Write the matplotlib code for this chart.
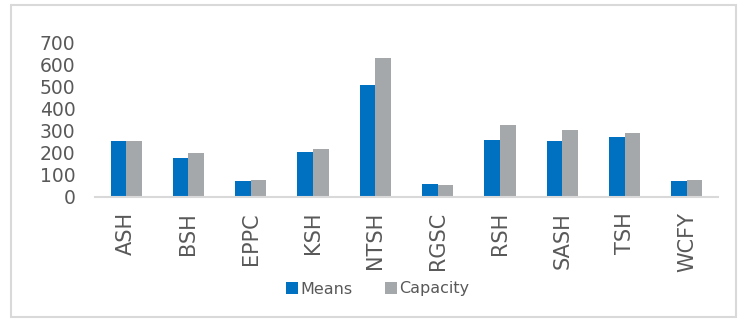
import matplotlib
matplotlib.use("Agg")
import matplotlib.pyplot as plt
import numpy as np
from matplotlib.patches import Rectangle

categories = ["ASH", "BSH", "EPPC", "KSH", "NTSH", "RGSC", "RSH", "SASH", "TSH", "WCFY"]
means = [254, 175, 70, 201, 506, 57, 258, 251, 269, 71]
capacity = [251, 199, 74, 217, 627, 53, 326, 302, 288, 76]
yticks = [0, 100, 200, 300, 400, 500, 600, 700]

plt.rcParams['font.family'] = ['DejaVu Sans']
txt = '#595959'

fig = plt.figure(figsize=(7.41, 3.22), dpi=100)
# outer border
fig.patches.append(Rectangle((11/741, 1 - 316.5/322), (736-11)/741, (316.5-4.5)/322,
                             transform=fig.transFigure, fill=False,
                             edgecolor='#d9d9d9', linewidth=1.5))
ax = fig.add_axes([95/741, 1 - 196.7/322, (718-95)/741, (196.7-42.3)/322])

x = np.arange(len(categories))
w = 0.25
ax.bar(x - w/2, means, w, color='#0070C0', label='Means')
ax.bar(x + w/2, capacity, w, color='#A5A8AB', label='Capacity')

ax.set_xlim(-0.5, len(categories) - 0.5)
ax.set_ylim(0, 700)
ax.set_yticks(yticks)
ax.set_yticklabels([str(v) for v in yticks], fontsize=13.5, color=txt)
ax.set_xticks(x)
ax.set_xticklabels(categories, rotation=90, fontsize=15, color=txt)
ax.tick_params(axis='y', length=0, pad=14)
ax.tick_params(axis='x', length=0, pad=11)
for s in ['top', 'right', 'left']:
    ax.spines[s].set_visible(False)
ax.spines['bottom'].set_color('#d9d9d9')
ax.spines['bottom'].set_linewidth(1.5)

leg = fig.legend(loc='center', bbox_to_anchor=(378/741, 1 - 289/322), ncol=2,
                 frameon=False, fontsize=11.5, handlelength=0.73, handleheight=0.73,
                 handletextpad=0.16, columnspacing=2.05, labelcolor=txt,
                 borderpad=0, borderaxespad=0)

fig.savefig('out.png', dpi=100)
